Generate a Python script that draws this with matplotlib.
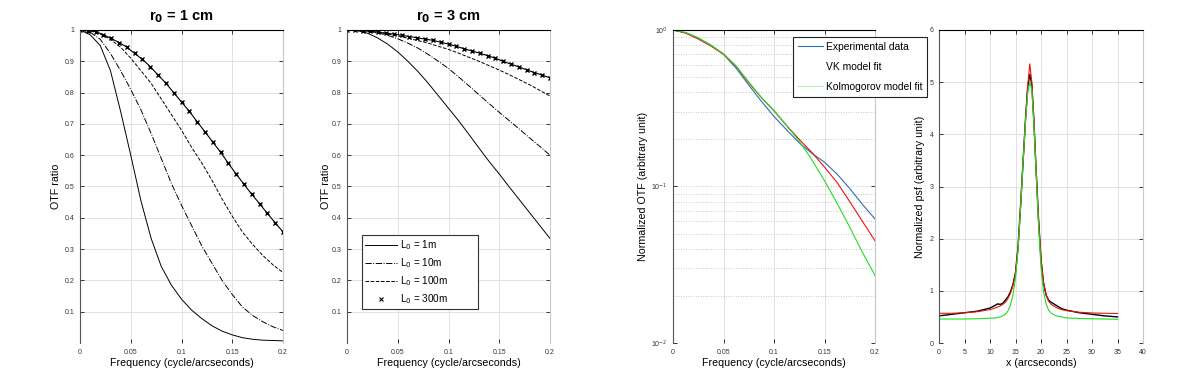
import numpy as np
import matplotlib
matplotlib.use("Agg")
import matplotlib.pyplot as plt
from matplotlib.lines import Line2D
from matplotlib.ticker import FixedLocator, NullFormatter, LogLocator

plt.rcParams['font.family'] = ['Liberation Sans', 'DejaVu Sans']

# ---------------- data ----------------
freq = [0, 0.01, 0.02, 0.03, 0.04, 0.05, 0.06, 0.07, 0.08, 0.09, 0.10,
        0.11, 0.12, 0.13, 0.14, 0.15, 0.16, 0.17, 0.18, 0.19, 0.20]
freq_mark = [k * 0.2 / 26 for k in range(27)]

# r0 = 1 cm
r1_L1 = [1.0, 0.985, 0.95, 0.87, 0.74, 0.60, 0.455, 0.335, 0.245, 0.185, 0.14,
         0.105, 0.078, 0.055, 0.038, 0.026, 0.017, 0.012, 0.009, 0.008, 0.007]
r1_L10 = [1.0, 0.993, 0.97, 0.925, 0.87, 0.81, 0.745, 0.67, 0.59, 0.51, 0.44,
          0.375, 0.31, 0.255, 0.20, 0.155, 0.115, 0.088, 0.068, 0.052, 0.04]
r1_L100 = [1.0, 0.997, 0.987, 0.97, 0.945, 0.91, 0.87, 0.83, 0.78, 0.73, 0.68,
           0.625, 0.575, 0.52, 0.46, 0.405, 0.355, 0.315, 0.28, 0.25, 0.225]
r1_L300 = [1.0, 0.998, 0.995, 0.985, 0.973, 0.96, 0.945, 0.925, 0.906, 0.883,
           0.856, 0.83, 0.80, 0.77, 0.74, 0.707, 0.675, 0.642, 0.61, 0.574,
           0.54, 0.507, 0.475, 0.445, 0.414, 0.384, 0.355]

# r0 = 3 cm
r3_L1 = [1.0, 0.998, 0.99, 0.975, 0.955, 0.93, 0.90, 0.867, 0.83, 0.79, 0.75,
         0.71, 0.667, 0.623, 0.58, 0.54, 0.498, 0.457, 0.416, 0.375, 0.334]
r3_L10 = [1.0, 0.999, 0.996, 0.991, 0.983, 0.972, 0.958, 0.942, 0.922, 0.90, 0.877,
          0.85, 0.822, 0.793, 0.765, 0.737, 0.71, 0.683, 0.655, 0.628, 0.60]
r3_L100 = [1.0, 0.999, 0.996, 0.992, 0.987, 0.981, 0.974, 0.966, 0.958, 0.948, 0.938,
           0.926, 0.913, 0.90, 0.886, 0.872, 0.857, 0.841, 0.825, 0.807, 0.789]
r3_L300 = [1.0, 0.999, 0.998, 0.996, 0.993, 0.990, 0.987, 0.983, 0.979, 0.975,
           0.971, 0.967, 0.961, 0.955, 0.948, 0.940, 0.933, 0.926, 0.918, 0.910,
           0.900, 0.891, 0.882, 0.873, 0.864, 0.856, 0.847]

# normalized OTF fits
freq_otf = [0, 0.0125, 0.025, 0.0375, 0.05, 0.0625, 0.075, 0.0875, 0.1,
            0.1125, 0.125, 0.1375, 0.15, 0.1625, 0.175, 0.1875, 0.2]
otf_exp = [1.0, 0.96, 0.89, 0.80, 0.70, 0.57, 0.445, 0.35, 0.28,
           0.23, 0.19, 0.163, 0.143, 0.12, 0.097, 0.077, 0.062]
otf_vk = [1.0, 0.955, 0.875, 0.79, 0.70, 0.585, 0.46, 0.37, 0.305,
          0.245, 0.20, 0.165, 0.133, 0.106, 0.08, 0.06, 0.045]
otf_kol = [1.0, 0.965, 0.89, 0.80, 0.705, 0.59, 0.465, 0.37, 0.305,
           0.245, 0.195, 0.148, 0.109, 0.078, 0.055, 0.038, 0.027]

# psf profiles
x_psf = [0, 2.5, 5, 7.5, 10, 11, 11.5, 12, 12.5, 13, 13.5, 14, 14.5, 15, 15.5,
         16, 16.5, 17, 17.4, 17.8, 18.2, 18.6, 19, 19.5, 20, 20.5, 21, 21.5,
         22, 23, 24, 25, 27.5, 30, 32.5, 35]
psf_exp = [0.52, 0.55, 0.58, 0.61, 0.67, 0.72, 0.75, 0.74, 0.76, 0.82, 0.88,
           0.98, 1.12, 1.35, 1.85, 2.65, 3.5, 4.35, 4.9, 5.15, 4.95, 4.25, 3.4,
           2.4, 1.6, 1.15, 0.92, 0.82, 0.78, 0.72, 0.66, 0.63, 0.58, 0.55, 0.52, 0.50]
psf_vk = [0.57, 0.57, 0.58, 0.60, 0.64, 0.67, 0.69, 0.71, 0.74, 0.78, 0.85,
          0.95, 1.1, 1.33, 1.8, 2.6, 3.5, 4.35, 4.95, 5.35, 5.0, 4.3, 3.4,
          2.4, 1.6, 1.15, 0.92, 0.80, 0.74, 0.68, 0.64, 0.62, 0.59, 0.575, 0.57, 0.565]
psf_kol = [0.46, 0.46, 0.46, 0.465, 0.475, 0.48, 0.49, 0.50, 0.52, 0.55, 0.61,
           0.72, 0.92, 1.25, 1.8, 2.6, 3.5, 4.3, 4.8, 5.0, 4.85, 4.2, 3.35,
           2.3, 1.45, 0.98, 0.75, 0.63, 0.57, 0.52, 0.50, 0.48, 0.47, 0.465, 0.46, 0.455]

legend_L0 = ['L$_0$ = 1m', 'L$_0$ = 10m', 'L$_0$ = 100m', 'L$_0$ = 300m']
legend_fit = ['Experimental data', 'VK model fit', 'Kolmogorov model fit']

# ---------------- style helpers ----------------
W, H = 1200, 385
fig = plt.figure(figsize=(W / 100, H / 100), dpi=100)

def box(px_left, px_right, px_top=30, px_bottom=343):
    return [px_left / W, 1 - px_bottom / H, (px_right - px_left) / W,
            (px_bottom - px_top) / H]

GRID = '#dcdcdc'
TICKFS = 5
LABFS = 7.7

def style(ax):
    ax.spines['left'].set_color('#555555')
    ax.spines['top'].set_color('black')
    ax.spines['right'].set_color('#c8c8c8')
    ax.spines['bottom'].set_visible(False)
    for sp in ax.spines.values():
        sp.set_linewidth(0.8)
    ax.tick_params(direction='in', length=3, width=0.7, top=True, right=True,
                   labelsize=TICKFS, colors='#333333', pad=4)
    ax.tick_params(which='minor', length=0)

def otf_panel(ax, L1, L10, L100, L300, title, ylab_x):
    ax.plot(freq, L1, '-', color='black', lw=0.7)
    ax.plot(freq, L10, '-.', color='black', lw=0.7)
    ax.plot(freq, L100, '--', color='black', lw=0.7)
    ax.plot(freq_mark, L300, '-', color='black', lw=0.8, marker='x',
            ms=3.4, mew=1.0)
    ax.set_xlim(0, 0.2)
    ax.set_ylim(0, 1)
    ax.set_xticks([0, 0.05, 0.1, 0.15, 0.2])
    ax.set_xticklabels(['0', '0.05', '0.1', '0.15', '0.2'])
    yt = [0.1, 0.2, 0.3, 0.4, 0.5, 0.6, 0.7, 0.8, 0.9, 1.0]
    ax.set_yticks(yt)
    ax.set_yticklabels(['%g' % v for v in yt])
    ax.grid(True, color=GRID, lw=0.6)
    ax.set_axisbelow(True)
    style(ax)
    ax.set_xlabel('Frequency (cycle/arcseconds)', fontsize=LABFS, labelpad=2)
    ax.set_ylabel('OTF ratio', fontsize=LABFS)
    ax.yaxis.set_label_coords(ylab_x, 0.5)
    ax.set_title(title, fontsize=10.5, fontweight='bold', pad=7)

ax1 = fig.add_axes(box(80, 283))
otf_panel(ax1, r1_L1, r1_L10, r1_L100, r1_L300, r'r$_\mathbf{0}$ = 1 cm', -0.095)

ax2 = fig.add_axes(box(347, 550))
otf_panel(ax2, r3_L1, r3_L10, r3_L100, r3_L300, r'r$_\mathbf{0}$ = 3 cm', -0.08)
handles = [Line2D([], [], ls='-', color='black', lw=0.7),
           Line2D([], [], ls='-.', color='black', lw=0.7),
           Line2D([], [], ls='--', color='black', lw=0.7),
           Line2D([], [], ls='none', marker='x', color='black', ms=3, mew=0.8)]
leg = ax2.legend(handles, legend_L0, loc='upper left',
                 bbox_to_anchor=(0.074, 0.335, 0.571, 0.01), mode='expand',
                 fontsize=7.2, frameon=True,
                 fancybox=False, edgecolor='#333333', framealpha=1,
                 handlelength=3.2, handletextpad=0.3, labelspacing=0.42,
                 borderpad=0.3, borderaxespad=0)
leg.get_frame().set_linewidth(0.8)

# ---- normalized OTF ----
ax3 = fig.add_axes(box(673, 875))
ax3.semilogy(freq_otf, otf_exp, color='#2f6fb5', lw=0.8)
ax3.semilogy(freq_otf, otf_vk, color='#ee1111', lw=0.8)
ax3.semilogy(freq_otf, otf_kol, color='#22dd22', lw=0.8)
ax3.set_xlim(0, 0.2)
ax3.set_ylim(0.01, 1)
ax3.set_xticks([0, 0.05, 0.1, 0.15, 0.2])
ax3.set_xticklabels(['0', '0.05', '0.1', '0.15', '0.2'])
ax3.yaxis.set_major_locator(FixedLocator([0.01, 0.1, 1]))
ax3.set_yticklabels(['10$^{-2}$', '10$^{-1}$', '10$^{0}$'])
ax3.yaxis.set_minor_locator(LogLocator(base=10, subs=np.arange(2, 10)))
ax3.yaxis.set_minor_formatter(NullFormatter())
ax3.grid(True, which='major', axis='x', color=GRID, lw=0.6)
ax3.grid(True, which='both', axis='y', color='#b5b5b5', lw=0.6, ls=(0, (1, 2)))
ax3.set_axisbelow(True)
style(ax3)
ax3.set_xlabel('Frequency (cycle/arcseconds)', fontsize=LABFS, labelpad=2)
ax3.set_ylabel('Normalized OTF (arbitrary unit)', fontsize=LABFS)
ax3.yaxis.set_label_coords(-0.124, 0.5)
fh = [Line2D([], [], color='#2f6fb5', lw=0.8),
      Line2D([], [], color='white', lw=0.8),
      Line2D([], [], color='#b5efb5', lw=0.8)]
leg3 = ax3.legend(fh, legend_fit, loc='upper left',
                  bbox_to_anchor=(0.594, 0.978), fontsize=7.4, frameon=True,
                  fancybox=False, edgecolor='#222222', framealpha=1,
                  handlelength=2.5, handletextpad=0.25, labelspacing=1.0,
                  borderpad=0.45, borderaxespad=0)
leg3.get_frame().set_linewidth(0.8)
leg3.set_zorder(10)

# ---- psf ----
ax4 = fig.add_axes(box(939, 1143))
ax4.plot(x_psf, psf_exp, color='black', lw=1.0)
ax4.plot(x_psf, psf_vk, color='#ee1111', lw=0.8)
ax4.plot(x_psf, psf_kol, color='#22dd22', lw=0.8)
ax4.set_xlim(0, 40)
ax4.set_ylim(0, 6)
ax4.set_xticks(range(0, 41, 5))
ax4.set_yticks(range(0, 7))
ax4.grid(True, color=GRID, lw=0.6)
ax4.set_axisbelow(True)
style(ax4)
ax4.set_xlabel('x (arcseconds)', fontsize=LABFS, labelpad=2)
ax4.set_ylabel('Normalized psf (arbitrary unit)', fontsize=LABFS)
ax4.yaxis.set_label_coords(-0.069, 0.5)

fig.savefig('out.png', dpi=100)
